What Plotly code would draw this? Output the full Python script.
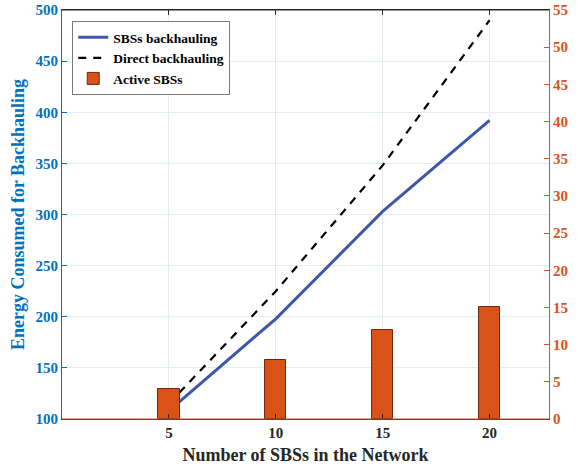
import plotly.graph_objects as go

x_sbs = [5, 10, 15, 20]
sbs_backhauling = [108, 198, 303, 392]
direct_backhauling = [115, 225, 348, 490]
active_sbs = [4, 8, 12, 15]

left_ticks = [100, 150, 200, 250, 300, 350, 400, 450, 500]
right_ticks = [0, 5, 10, 15, 20, 25, 30, 35, 40, 45, 50, 55]

BLUE_AX = "#0072BD"
ORANGE = "#D95319"
DARK = "#262626"
FONT = "Liberation Serif"

fig = go.Figure()
fig.add_trace(go.Scatter(x=x_sbs, y=sbs_backhauling, mode="lines", name="SBSs backhauling",
                         line=dict(color="#3F57A8", width=3)))
fig.add_trace(go.Scatter(x=x_sbs, y=direct_backhauling, mode="lines", name="Direct backhauling",
                         line=dict(color="black", width=2.2, dash="8px,7px")))
fig.add_trace(go.Bar(x=x_sbs, y=active_sbs, name="Active SBSs", yaxis="y2", width=1,
                     marker=dict(color=ORANGE, line=dict(color="#6b2a10", width=1))))

fig.update_layout(
    width=578, height=468,
    margin=dict(l=62, r=29, t=10, b=49),
    paper_bgcolor="white", plot_bgcolor="white",
    font=dict(family=FONT, size=14, color="black", weight="bold"),
    showlegend=True,
    legend=dict(x=0.021, y=0.973, xanchor="left", yanchor="top",
                bgcolor="white", bordercolor="#7a7a7a", borderwidth=1,
                font=dict(family=FONT, size=13.5, color="black", weight="bold"),
                tracegroupgap=0, itemwidth=30),
    xaxis=dict(range=[0, 22.78], tickvals=x_sbs, ticktext=[str(v) for v in x_sbs],
               automargin=False, ticklabeloverflow="allow",
               showgrid=True, gridcolor="#e3ecf2", gridwidth=1, zeroline=False,
               showline=True, linecolor=DARK, linewidth=1.2, mirror="ticks",
               ticks="inside", ticklen=5, tickcolor=DARK,
               tickfont=dict(family=FONT, size=15, color=DARK, weight="bold"),
               title=dict(text="Number of SBSs in the Network", standoff=8,
                          font=dict(family=FONT, size=18, color=DARK, weight="bold"))),
    yaxis=dict(range=[100, 500], tickvals=left_ticks, showgrid=True, gridcolor="#e3ecf2",
               automargin=False, ticklabeloverflow="allow",
               zeroline=False, showline=True, linecolor=BLUE_AX, linewidth=1.2,
               ticks="inside", ticklen=5, tickcolor=BLUE_AX,
               tickfont=dict(family=FONT, size=15, color=BLUE_AX, weight="bold"),
               title=dict(text="Energy Consumed for Backhauling", standoff=6,
                          font=dict(family=FONT, size=18, color=BLUE_AX, weight="bold"))),
    yaxis2=dict(range=[0, 55], tickvals=right_ticks, overlaying="y", side="right",
                automargin=False, ticklabeloverflow="allow",
                showgrid=False, zeroline=False, showline=True, linecolor=ORANGE, linewidth=1.2,
                ticks="inside", ticklen=5, tickcolor=ORANGE,
                tickfont=dict(family=FONT, size=15, color=ORANGE, weight="bold")),
    bargap=0,
    shapes=[
        dict(type="line", xref="paper", yref="paper", x0=0, x1=1, y0=0, y1=0,
             line=dict(color=ORANGE, width=1.2), layer="above"),
        dict(type="line", xref="paper", yref="paper", x0=0, x1=1, y0=1, y1=1,
             line=dict(color=DARK, width=1.2), layer="above"),
    ],
)

fig.write_html("out.html", config={"displayModeBar": False},
               post_script="document.body.style.margin='0';document.body.style.padding='0';")
